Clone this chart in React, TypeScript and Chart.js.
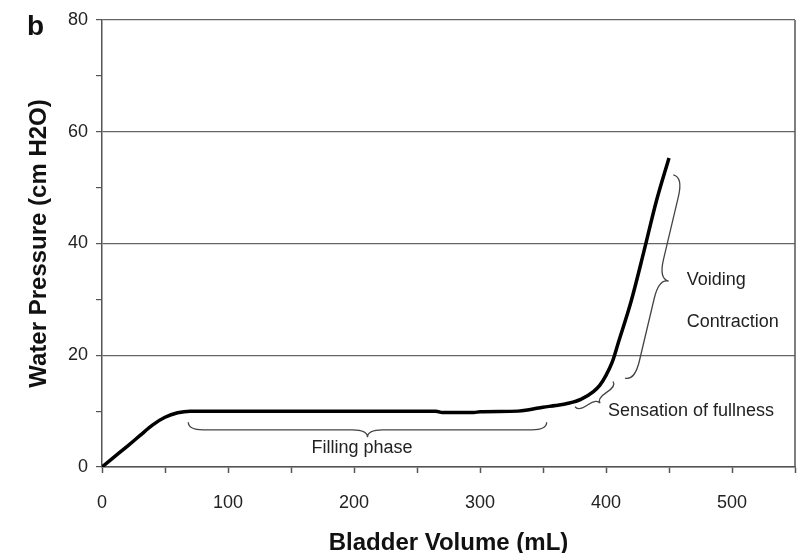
import React, { useEffect, useRef } from 'react';
import { Chart, registerables } from 'chart.js';

Chart.register(...registerables);

// ---- data ----
const volumes = [0, 10, 20, 30, 40, 50, 60, 70, 100, 150, 200, 250, 265, 270, 295, 300, 330, 340, 350, 360, 370, 380, 390, 395, 400, 405, 410, 420, 430, 440, 450];
const pressures = [0, 1.85, 3.7, 5.6, 7.5, 8.9, 9.7, 10, 10, 10, 10, 10, 10, 9.75, 9.75, 9.9, 10, 10.3, 10.7, 11.0, 11.4, 12.1, 13.5, 14.6, 16.4, 18.8, 22.4, 29.7, 38.5, 47.6, 55.3];

const xTickValues = [0, 100, 200, 300, 400, 500];
const yTickValues = [0, 20, 40, 60, 80];

// annotation anchors (data units)
const braceStartVol = [68.5, 375.4, 415.1];
const braceStartPress = [8.0, 10.8, 15.9];
const braceEndVol = [352.9, 405.6, 453.4];
const braceEndPress = [8.0, 15.3, 52.3];

const labelTexts = ['Filling phase', 'Sensation of fullness', 'Voiding', 'Contraction'];
const labelVol = [206.3, 401.6, 464.0, 464.0];
const labelPress = [3.4, 10.0, 33.5, 26.0];

// ---- styling ----
const FONT = '"Liberation Sans", Arial, Helvetica, sans-serif';
const braceDepthPx = [7.5, 5.5, 10];
const labelAlign: CanvasTextAlign[] = ['center', 'left', 'left', 'left'];

function drawBrace(ctx: CanvasRenderingContext2D, x1: number, y1: number, x2: number, y2: number, r: number) {
  const dx = x2 - x1, dy = y2 - y1;
  const L = Math.hypot(dx, dy);
  const tx = dx / L, ty = dy / L;
  const nx = -ty, ny = tx;
  const s = Math.min(2 * r, L / 4);
  const mx = (x1 + x2) / 2, my = (y1 + y2) / 2;
  const P = (bx: number, by: number, a: number, b: number): [number, number] => [bx + tx * a + nx * b, by + ty * a + ny * b];
  ctx.beginPath();
  ctx.moveTo(x1, y1);
  let c = P(x1, y1, 0, r), e = P(x1, y1, s, r);
  ctx.quadraticCurveTo(c[0], c[1], e[0], e[1]);
  e = P(mx, my, -s, r);
  ctx.lineTo(e[0], e[1]);
  c = P(mx, my, 0, r); e = P(mx, my, 0, 2 * r);
  ctx.quadraticCurveTo(c[0], c[1], e[0], e[1]);
  c = P(mx, my, 0, r); e = P(mx, my, s, r);
  ctx.quadraticCurveTo(c[0], c[1], e[0], e[1]);
  e = P(x2, y2, -s, r);
  ctx.lineTo(e[0], e[1]);
  c = P(x2, y2, 0, r);
  ctx.quadraticCurveTo(c[0], c[1], x2, y2);
  ctx.stroke();
}

const annotationPlugin = {
  id: 'bladderAnnotations',
  afterDraw(chart: any) {
    const { ctx, chartArea, scales } = chart;
    const xs = scales.x, ys = scales.y;
    ctx.save();
    // right frame line
    ctx.strokeStyle = '#555';
    ctx.lineWidth = 1.5;
    ctx.beginPath();
    ctx.moveTo(chartArea.right, chartArea.top);
    ctx.lineTo(chartArea.right, chartArea.bottom);
    ctx.stroke();

    // braces
    ctx.strokeStyle = '#444';
    ctx.lineWidth = 1.3;
    for (let i = 0; i < braceStartVol.length; i++) {
      drawBrace(
        ctx,
        xs.getPixelForValue(braceStartVol[i]), ys.getPixelForValue(braceStartPress[i]),
        xs.getPixelForValue(braceEndVol[i]), ys.getPixelForValue(braceEndPress[i]),
        braceDepthPx[i]
      );
    }

    // labels
    ctx.fillStyle = '#222';
    ctx.font = `18px ${FONT}`;
    ctx.textBaseline = 'middle';
    for (let i = 0; i < labelTexts.length; i++) {
      ctx.textAlign = labelAlign[i];
      ctx.fillText(labelTexts[i], xs.getPixelForValue(labelVol[i]), ys.getPixelForValue(labelPress[i]));
    }

    // panel letter
    ctx.fillStyle = '#111';
    ctx.font = `bold 28px ${FONT}`;
    ctx.textAlign = 'left';
    ctx.textBaseline = 'alphabetic';
    ctx.fillText('b', 27, 35);
    ctx.restore();
  },
};

export default function App() {
  const canvasRef = useRef<HTMLCanvasElement | null>(null);

  useEffect(() => {
    const canvas = canvasRef.current;
    if (!canvas) return;
    const points = volumes.map((v, i) => ({ x: v, y: pressures[i] }));
    const chart = new Chart(canvas, {
      type: 'line',
      data: {
        datasets: [
          {
            data: points,
            borderColor: '#000',
            borderWidth: 3.5,
            pointRadius: 0,
            fill: false,
            cubicInterpolationMode: 'monotone',
          },
        ],
      },
      options: {
        animation: false,
        responsive: false,
        devicePixelRatio: 1,
        layout: { padding: { top: 20, right: 3, left: 0, bottom: 0 } },
        plugins: { legend: { display: false }, tooltip: { enabled: false } },
        scales: {
          x: {
            type: 'linear',
            min: 0,
            max: 550,
            border: { display: true, color: '#555', width: 1.5 },
            grid: { drawOnChartArea: false, drawTicks: true, tickLength: 6, tickColor: '#555', tickWidth: 1.5 },
            ticks: {
              stepSize: 50,
              autoSkip: false,
              maxRotation: 0,
              padding: 19,
              color: '#222',
              font: { family: FONT, size: 18 },
              callback: (v: any) => (xTickValues.includes(Number(v)) ? String(v) : ''),
            },
            title: {
              display: true,
              text: 'Bladder Volume (mL)',
              color: '#111',
              font: { family: FONT, size: 24, weight: 'bold', lineHeight: 1 },
              padding: { top: 0, bottom: -2 },
            },
            afterFit: (s: any) => {
              s.height = 86;
              s.paddingLeft = 0;
              s.paddingRight = 0;
            },
          },
          y: {
            min: 0,
            max: 80,
            border: { display: true, color: '#555', width: 1.5 },
            grid: {
              color: (c: any) => (c.tick && yTickValues.includes(c.tick.value) ? '#666' : 'rgba(0,0,0,0)'),
              lineWidth: 1.2,
              drawTicks: true,
              tickLength: 6,
              tickColor: '#555',
              tickWidth: 1.2,
            },
            ticks: {
              stepSize: 10,
              padding: 8,
              color: '#222',
              font: { family: FONT, size: 18 },
              callback: (v: any) => (yTickValues.includes(Number(v)) ? String(v) : ''),
            },
            title: {
              display: true,
              text: 'Water Pressure (cm H2O)',
              color: '#111',
              font: { family: FONT, size: 24, weight: 'bold', lineHeight: 1 },
              padding: { top: 27, bottom: 0 },
            },
            afterFit: (s: any) => {
              s.width = 102;
              s.paddingTop = 0;
              s.paddingBottom = 0;
            },
          },
        },
      },
      plugins: [annotationPlugin],
    } as any);
    return () => chart.destroy();
  }, []);

  return (
    <div style={{ position: 'absolute', left: 0, top: 0, width: 798, height: 553, background: '#fff' }}>
      <canvas ref={canvasRef} width={798} height={553} style={{ display: 'block', width: 798, height: 553 }} />
    </div>
  );
}
